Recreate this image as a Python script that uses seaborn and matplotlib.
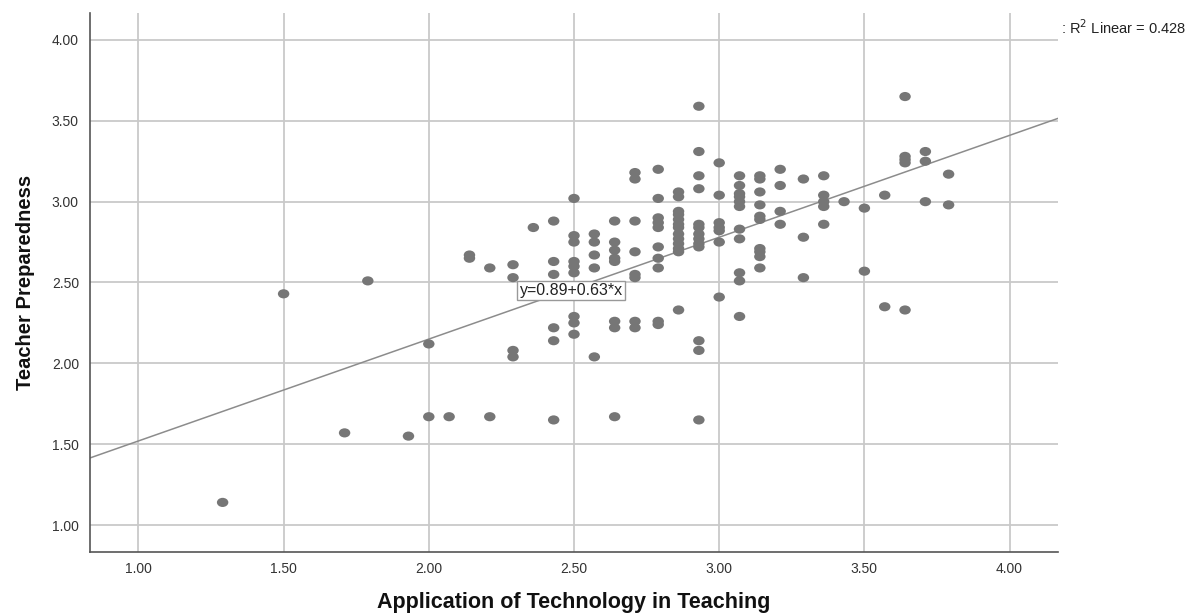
import numpy as np
import pandas as pd
import matplotlib
matplotlib.use("Agg")
import matplotlib.pyplot as plt
from matplotlib.path import Path
import matplotlib.transforms as mtransforms
import seaborn as sns

# ---- data ----
x_cols = [1.29, 1.50, 1.71, 1.79, 1.93, 2.00, 2.07, 2.14, 2.21, 2.29, 2.36, 2.43,
          2.50, 2.57, 2.64, 2.71, 2.79, 2.86, 2.93, 3.00, 3.07, 3.14, 3.21, 3.29,
          3.36, 3.43, 3.50, 3.57, 3.64, 3.71, 3.79]
y_by_col = [
    [1.14],
    [2.43],
    [1.57],
    [2.51],
    [1.55],
    [1.67, 2.12],
    [1.67],
    [2.67, 2.65],
    [1.67, 2.59],
    [2.04, 2.08, 2.53, 2.61],
    [2.84],
    [1.65, 2.14, 2.22, 2.55, 2.63, 2.88],
    [2.18, 2.25, 2.29, 2.56, 2.60, 2.63, 2.75, 2.79, 3.02],
    [2.04, 2.59, 2.67, 2.75, 2.80],
    [1.67, 2.22, 2.26, 2.63, 2.65, 2.70, 2.75, 2.88],
    [2.22, 2.26, 2.53, 2.55, 2.69, 2.88, 3.14, 3.18],
    [2.24, 2.26, 2.59, 2.65, 2.72, 2.84, 2.87, 2.90, 3.02, 3.20],
    [2.33, 2.69, 2.71, 2.74, 2.77, 2.80, 2.84, 2.86, 2.89, 2.92, 2.94, 3.03, 3.06],
    [1.65, 2.08, 2.14, 2.72, 2.74, 2.77, 2.80, 2.84, 2.86, 3.08, 3.16, 3.31, 3.59],
    [2.41, 2.75, 2.82, 2.84, 2.87, 3.04, 3.24],
    [2.29, 2.51, 2.56, 2.77, 2.83, 2.97, 3.00, 3.03, 3.05, 3.10, 3.16],
    [2.59, 2.66, 2.69, 2.71, 2.89, 2.91, 2.98, 3.06, 3.14, 3.16],
    [2.86, 2.94, 3.10, 3.20],
    [2.53, 2.78, 3.14],
    [2.86, 2.97, 3.00, 3.04, 3.16],
    [3.00],
    [2.57, 2.96],
    [2.35, 3.04],
    [2.33, 3.24, 3.26, 3.28, 3.65],
    [3.00, 3.25, 3.31],
    [2.98, 3.17],
]
fit_intercept = 0.89
fit_slope = 0.63
r2_linear = 0.428
x_ticks = [1.00, 1.50, 2.00, 2.50, 3.00, 3.50, 4.00]
y_ticks = [1.00, 1.50, 2.00, 2.50, 3.00, 3.50, 4.00]
x_label = "Application of Technology in Teaching"
y_label = "Teacher Preparedness"

xs, ys = [], []
for xc, col in zip(x_cols, y_by_col):
    for yv in col:
        xs.append(xc)
        ys.append(yv)
df = pd.DataFrame({x_label: xs, y_label: ys})

# ---- style ----
sns.set_theme(style="white")
plt.rcParams["font.family"] = ["Liberation Sans", "DejaVu Sans"]

fig = plt.figure(figsize=(11.95, 6.15), dpi=100)
ax = fig.add_axes([90 / 1195, 1 - 552 / 615, (1058 - 90) / 1195, (552 - 13) / 615])

# ellipse marker (slightly wider than tall)
circ = Path.unit_circle()
ell = circ.transformed(mtransforms.Affine2D().scale(1.25, 1.0))

ax.set_axisbelow(True)
ax.grid(True, color="#c9c9c9", linewidth=1.3)

sns.scatterplot(data=df, x=x_label, y=y_label, ax=ax, marker=ell, s=68,
                color="#767676", edgecolor="none", linewidth=0, zorder=3)

ax.axline((0, fit_intercept), slope=fit_slope, color="#8c8c8c", linewidth=1.1, zorder=2)

ax.set_xlim(0.8333, 4.1667)
ax.set_ylim(0.8333, 4.1667)
ax.set_xticks(x_ticks)
ax.set_yticks(y_ticks)
ax.set_xticklabels([f"{v:.2f}" for v in x_ticks])
ax.set_yticklabels([f"{v:.2f}" for v in y_ticks])
ax.tick_params(axis="both", length=0, labelsize=10, colors="#333333")
ax.tick_params(axis="x", pad=7)
ax.tick_params(axis="y", pad=8)

for side in ["top", "right"]:
    ax.spines[side].set_visible(False)
for side in ["left", "bottom"]:
    ax.spines[side].set_color("#555555")
    ax.spines[side].set_linewidth(1.2)

ax.set_xlabel(x_label, fontsize=15.5, fontweight="bold", labelpad=12, color="#111111")
ax.set_ylabel(y_label, fontsize=14.5, fontweight="bold", labelpad=12, color="#111111")

# equation label box
ax.text(2.49, 2.45, f"y={fit_intercept:.2f}+{fit_slope:.2f}*x", fontsize=11.5,
        ha="center", va="center", color="#222222", zorder=5,
        bbox=dict(boxstyle="square,pad=0.15", facecolor="white", edgecolor="#999999", linewidth=1))

# R² annotation in the top-right margin
fig.text(1061 / 1195, 1 - 28 / 615, f": R$^2$ Linear = {r2_linear:.3f}", fontsize=10.5,
         ha="left", va="center", color="#222222")

fig.savefig("out.png", dpi=100)
